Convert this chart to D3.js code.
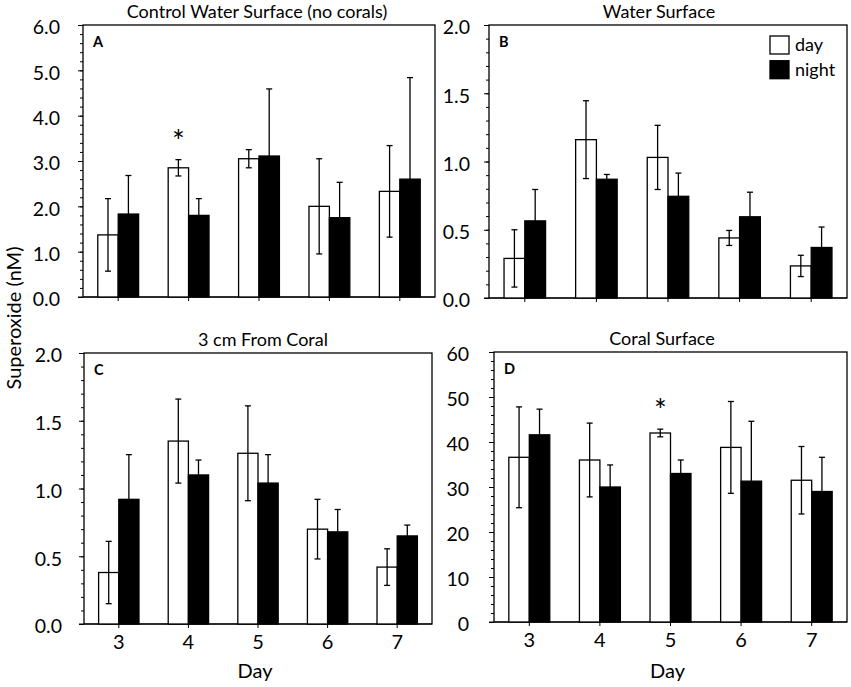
<!DOCTYPE html>
<html>
<head>
<meta charset="utf-8">
<script src="https://cdn.jsdelivr.net/npm/d3@7"></script>
<style>
  body { margin: 0; background: #fff; }
  svg text { font-family: Lato, "Open Sans", sans-serif; fill: #000; }
</style>
</head>
<body>
<div class="canvas"></div>
<script>
// Superoxide day/night, four sites
const days = ["3", "4", "5", "6", "7"];

const aDay = [1.37, 2.85, 3.05, 2.00, 2.33];
const aDayErr = [0.80, 0.18, 0.20, 1.05, 1.01];
const aNight = [1.83, 1.80, 3.11, 1.75, 2.60];
const aNightErr = [0.85, 0.37, 1.48, 0.78, 2.24];

const bDay = [0.29, 1.16, 1.03, 0.44, 0.235];
const bDayErr = [0.21, 0.285, 0.235, 0.055, 0.078];
const bNight = [0.565, 0.87, 0.745, 0.595, 0.37];
const bNightErr = [0.23, 0.035, 0.17, 0.18, 0.15];

const cDay = [0.38, 1.35, 1.26, 0.70, 0.42];
const cDayErr = [0.23, 0.31, 0.35, 0.22, 0.135];
const cNight = [0.92, 1.10, 1.04, 0.68, 0.65];
const cNightErr = [0.33, 0.11, 0.21, 0.165, 0.08];

const dDay = [36.6, 36.0, 42.0, 38.8, 31.5];
const dDayErr = [11.2, 8.2, 0.85, 10.2, 7.5];
const dNight = [41.6, 30.0, 33.0, 31.3, 29.0];
const dNightErr = [5.7, 4.9, 3.0, 13.3, 7.6];

const titles = ["Control Water Surface (no corals)", "Water Surface", "3 cm From Coral", "Coral Surface"];
const letters = ["A", "B", "C", "D"];
const yMax = [6, 2, 2, 60];
const yMajor = [1, 0.5, 0.5, 10];
const yMinor = [0.2, 0.1, 0.1, 2];
const yFormat = [".1f", ".1f", ".1f", "d"];
const starDay = ["4", null, null, "5"];

const width = 851, height = 687;

const svg = d3.select(".canvas")
    .append("svg")
    .attr("width", width)
    .attr("height", height);

// plot boxes in page pixels
const boxes = [
    { x0: 83, x1: 435, y0: 25, y1: 297, pad: 18, titleX: 257 },
    { x0: 489, x1: 847, y0: 25, y1: 298, pad: 14, titleX: 659 },
    { x0: 84, x1: 432, y0: 353, y1: 624, pad: 17, titleX: 263 },
    { x0: 494, x1: 847, y0: 352, y1: 622, pad: 20, titleX: 662 }
];

const series = [
    [aDay, aDayErr, aNight, aNightErr],
    [bDay, bDayErr, bNight, bNightErr],
    [cDay, cDayErr, cNight, cNightErr],
    [dDay, dDayErr, dNight, dNightErr]
];

boxes.forEach((b, i) => {
    const w = b.x1 - b.x0, h = b.y1 - b.y0;
    const g = svg.append("g").attr("transform", `translate(${b.x0}, ${b.y0})`);

    const x = d3.scaleBand().domain(days).range([0, w]).padding(0);
    const y = d3.scaleLinear().domain([0, yMax[i]]).range([h, 0]);
    const bw = x.bandwidth() * 0.29;
    const cx = d => x(d) + x.bandwidth() / 2;

    // box
    g.append("rect")
        .attr("width", w).attr("height", h)
        .attr("fill", "none").attr("stroke", "#000").attr("stroke-width", 1.3);

    // minor ticks
    const minors = d3.range(0, yMax[i] + 1e-9, yMinor[i]);
    g.append("g")
        .call(d3.axisLeft(y).tickValues(minors).tickSize(3).tickFormat(""))
        .call(a => a.select(".domain").remove());

    // major ticks + labels
    const majors = d3.range(0, yMax[i] + 1e-9, yMajor[i]);
    const yAxis = g.append("g")
        .call(d3.axisLeft(y).tickValues(majors).tickSize(5).tickPadding(b.pad).tickFormat(d3.format(yFormat[i])))
        .call(a => a.select(".domain").remove());
    yAxis.selectAll("text").attr("font-size", 19.5).attr("dy", "0.45em");

    // x axis
    const xAxis = g.append("g")
        .attr("transform", `translate(0, ${h})`)
        .call(d3.axisBottom(x).tickSize(4).tickPadding(7));
    xAxis.select(".domain").attr("d", `M-5,0H${w}`);
    xAxis.selectAll("text")
        .attr("font-size", 20)
        .attr("display", i < 2 ? "none" : null);

    const [dm, de, nm, ne] = series[i];
    const rows = days.map((d, k) => ({ day: d, dm: dm[k], de: de[k], nm: nm[k], ne: ne[k] }));

    // day bars (white)
    g.selectAll(".day").data(rows).enter().append("rect")
        .attr("x", d => cx(d.day) - bw)
        .attr("y", d => y(d.dm))
        .attr("width", bw)
        .attr("height", d => h - y(d.dm))
        .attr("fill", "#fff").attr("stroke", "#000").attr("stroke-width", 1.3);

    // night bars (black)
    g.selectAll(".night").data(rows).enter().append("rect")
        .attr("x", d => cx(d.day))
        .attr("y", d => y(d.nm))
        .attr("width", bw)
        .attr("height", d => h - y(d.nm))
        .attr("fill", "#000").attr("stroke", "#000").attr("stroke-width", 1.3);

    // error bars
    const errs = rows.flatMap(d => [
        { xc: cx(d.day) - bw / 2, m: d.dm, e: d.de },
        { xc: cx(d.day) + bw / 2, m: d.nm, e: d.ne }
    ]);
    const eg = g.append("g").attr("stroke", "#000").attr("stroke-width", 1.3);
    errs.forEach(e => {
        const top = y(e.m + e.e), bot = y(Math.max(0, e.m - e.e));
        eg.append("line").attr("x1", e.xc).attr("x2", e.xc).attr("y1", top).attr("y2", bot);
        eg.append("line").attr("x1", e.xc - 3).attr("x2", e.xc + 3).attr("y1", top).attr("y2", top);
        eg.append("line").attr("x1", e.xc - 3).attr("x2", e.xc + 3).attr("y1", bot).attr("y2", bot);
    });

    // significance star
    if (starDay[i]) {
        const k = days.indexOf(starDay[i]);
        g.append("text")
            .attr("x", cx(starDay[i]) - bw / 2)
            .attr("y", y(dm[k] + de[k]) - 8)
            .attr("text-anchor", "middle")
            .attr("font-size", 30)
            .text("*");
    }

    // panel letter
    g.append("text")
        .attr("x", 10).attr("y", 21.5)
        .attr("font-size", 14.5).attr("font-weight", "bold")
        .attr("font-family", "Liberation Sans, Arial, sans-serif")
        .text(letters[i]);

    // title
    svg.append("text")
        .attr("x", b.titleX).attr("y", b.y0 - 7)
        .attr("text-anchor", "middle")
        .attr("font-size", 18)
        .text(titles[i]);

    // x label
    if (i >= 2) {
        svg.append("text")
            .attr("x", b.x0 + w / 2 - 3).attr("y", 678)
            .attr("text-anchor", "middle")
            .attr("font-size", 20)
            .text("Day");
    }
});

// legend in panel B
const lb = boxes[1];
const legend = svg.append("g").attr("transform", `translate(${lb.x0 + 281}, ${lb.y0 + 11})`);
[["day", "#fff"], ["night", "#000"]].forEach(([label, fill], k) => {
    legend.append("rect")
        .attr("x", 0).attr("y", k * 24.7)
        .attr("width", 19).attr("height", 18)
        .attr("fill", fill).attr("stroke", "#000").attr("stroke-width", 1.3);
    legend.append("text")
        .attr("x", 25).attr("y", k * 24.7 + 15)
        .attr("font-size", 18)
        .text(label);
});

// shared y label
svg.append("text")
    .attr("transform", "translate(21, 318) rotate(-90)")
    .attr("text-anchor", "middle")
    .attr("font-size", 20)
    .text("Superoxide (nM)");
</script>
</body>
</html>
